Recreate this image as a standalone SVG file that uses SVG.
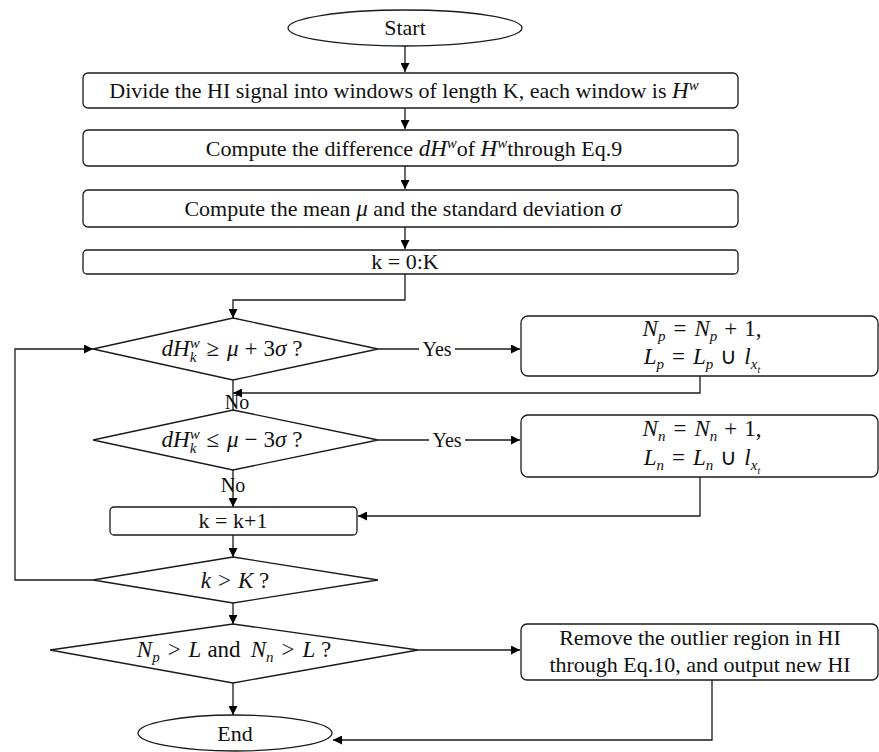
<svg xmlns="http://www.w3.org/2000/svg" width="879" height="752" viewBox="0 0 879 752">
  <defs>
    <marker id="arrow" viewBox="0 0 10 10" refX="10" refY="5" markerWidth="10" markerHeight="9" markerUnits="userSpaceOnUse" orient="auto">
      <path d="M0,0 L10,5 L0,10 z" fill="#000"/>
    </marker>
    <style>
      .shape { fill: #fff; stroke: #1a1a1a; stroke-width: 1.3; }
      .line { fill: none; stroke: #1a1a1a; stroke-width: 1.3; }
      .arr { marker-end: url(#arrow); }
      text { font-family: "Liberation Serif", "Times New Roman", serif; font-size: 22px; fill: #111; }
      .c { text-anchor: middle; }
      .i { font-style: italic; }
      .m { font-size: 23px; }
      .s { font-size: 15px; }
      .lbl { font-size: 20px; }
    </style>
  </defs>

  <rect width="879" height="752" fill="#fff"/>

  <!-- connectors -->
  <g id="connectors">
    <line class="line arr" x1="405" y1="46" x2="405" y2="72"/>
    <line class="line arr" x1="405" y1="108" x2="405" y2="129"/>
    <line class="line arr" x1="405" y1="166" x2="405" y2="189"/>
    <line class="line arr" x1="405" y1="227" x2="405" y2="249"/>
    <polyline class="line arr" points="405,274 405,300 233,300 233,318"/>
    <!-- yes branches -->
    <line class="line arr" x1="378" y1="349" x2="520" y2="349"/>
    <line class="line arr" x1="378" y1="440" x2="520" y2="440"/>
    <!-- returns from the counters -->
    <polyline class="line arr" points="700,376 700,393 233,393"/>
    <line class="line" x1="233" y1="380" x2="233" y2="410"/>
    <polyline class="line arr" points="700,477 700,516 358,516"/>
    <line class="line arr" x1="233" y1="470" x2="233" y2="507"/>
    <line class="line arr" x1="233" y1="535" x2="233" y2="557"/>
    <!-- loop back -->
    <polyline class="line arr" points="93,580 15,580 15,349 93,349"/>
    <line class="line arr" x1="233" y1="603" x2="233" y2="624"/>
    <line class="line arr" x1="418" y1="650" x2="520" y2="650"/>
    <line class="line arr" x1="233" y1="683" x2="233" y2="715"/>
    <polyline class="line arr" points="712,680 712,740 333,740"/>
    <!-- branch labels -->
    <rect x="419" y="338" width="36" height="20" fill="#fff"/>
    <text class="c lbl" x="437" y="356">Yes</text>
    <rect x="429" y="429" width="36" height="20" fill="#fff"/>
    <text class="c lbl" x="447" y="447">Yes</text>
    <text class="c lbl" x="237" y="409">No</text>
    <text class="c lbl" x="233" y="492">No</text>
  </g>

  <g id="start">
    <ellipse class="shape" cx="405" cy="28" rx="117" ry="18"/>
    <text class="c" x="405" y="35">Start</text>
  </g>

  <g id="divide">
    <rect class="shape" x="83" y="73" width="655" height="35" rx="5"/>
    <text class="c" x="404" y="98">Divide the HI signal into windows of length K, each window is <tspan class="i m">H</tspan><tspan class="i s" baseline-shift="8">w</tspan></text>
  </g>

  <g id="difference">
    <rect class="shape" x="83" y="130" width="655" height="36" rx="5"/>
    <text class="c" x="414" y="156">Compute the difference <tspan class="i m">dH</tspan><tspan class="i s" baseline-shift="8">w</tspan>of <tspan class="i m">H</tspan><tspan class="i s" baseline-shift="8">w</tspan>through Eq.9</text>
  </g>

  <g id="stats">
    <rect class="shape" x="83" y="190" width="655" height="37" rx="5"/>
    <text class="c" x="403" y="216">Compute the mean <tspan class="i m">μ</tspan> and the standard deviation <tspan class="i m">σ</tspan></text>
  </g>

  <g id="init">
    <rect class="shape" x="83" y="250" width="655" height="24" rx="4"/>
    <text class="c" x="405" y="269">k = 0:K</text>
  </g>

  <g id="test-upper">
    <polygon class="shape" points="233,318 378,349 233,380 93,349"/>
    <text class="c m" x="232" y="356"><tspan class="i">dH</tspan><tspan class="i s" baseline-shift="8">w</tspan><tspan class="i s" dx="-10" baseline-shift="-6">k</tspan><tspan dx="10">≥</tspan><tspan class="i" dx="8">μ</tspan><tspan dx="6">+</tspan><tspan dx="6">3</tspan><tspan class="i">σ</tspan> ?</text>
  </g>

  <g id="count-upper">
    <rect class="shape" x="521" y="316" width="357" height="60" rx="7"/>
    <text class="c m" x="702" y="336"><tspan class="i">N</tspan><tspan class="i s" baseline-shift="-5">p</tspan><tspan dx="8">=</tspan><tspan class="i" dx="8">N</tspan><tspan class="i s" baseline-shift="-5">p</tspan><tspan dx="7">+</tspan><tspan dx="7">1,</tspan></text>
    <text class="c m" x="702" y="364"><tspan class="i">L</tspan><tspan class="i s" baseline-shift="-5">p</tspan><tspan dx="8">=</tspan><tspan class="i" dx="8">L</tspan><tspan class="i s" baseline-shift="-5">p</tspan><tspan dx="7">∪</tspan><tspan class="i" dx="7">l</tspan><tspan class="i s" baseline-shift="-5">x</tspan><tspan class="i" font-size="10px" baseline-shift="-9">t</tspan></text>
  </g>

  <g id="test-lower">
    <polygon class="shape" points="233,410 378,440 233,470 93,440"/>
    <text class="c m" x="232" y="447"><tspan class="i">dH</tspan><tspan class="i s" baseline-shift="8">w</tspan><tspan class="i s" dx="-10" baseline-shift="-6">k</tspan><tspan dx="10">≤</tspan><tspan class="i" dx="8">μ</tspan><tspan dx="6">−</tspan><tspan dx="6">3</tspan><tspan class="i">σ</tspan> ?</text>
  </g>

  <g id="count-lower">
    <rect class="shape" x="521" y="415" width="357" height="62" rx="7"/>
    <text class="c m" x="702" y="436"><tspan class="i">N</tspan><tspan class="i s" baseline-shift="-5">n</tspan><tspan dx="8">=</tspan><tspan class="i" dx="8">N</tspan><tspan class="i s" baseline-shift="-5">n</tspan><tspan dx="7">+</tspan><tspan dx="7">1,</tspan></text>
    <text class="c m" x="702" y="465"><tspan class="i">L</tspan><tspan class="i s" baseline-shift="-5">n</tspan><tspan dx="8">=</tspan><tspan class="i" dx="8">L</tspan><tspan class="i s" baseline-shift="-5">n</tspan><tspan dx="7">∪</tspan><tspan class="i" dx="7">l</tspan><tspan class="i s" baseline-shift="-5">x</tspan><tspan class="i" font-size="10px" baseline-shift="-9">t</tspan></text>
  </g>

  <g id="increment">
    <rect class="shape" x="110" y="507" width="247" height="28" rx="4"/>
    <text class="c" x="233" y="528">k = k+1</text>
  </g>

  <g id="test-end">
    <polygon class="shape" points="233,557 378,580 233,603 93,580"/>
    <text class="c m" x="235" y="588"><tspan class="i">k</tspan><tspan dx="7">&gt;</tspan><tspan class="i" dx="7">K</tspan> ?</text>
  </g>

  <g id="test-counts">
    <polygon class="shape" points="233,624 418,650 233,683 50,650"/>
    <text class="c m" x="234" y="657"><tspan class="i">N</tspan><tspan class="i s" baseline-shift="-5">p</tspan><tspan dx="8">&gt;</tspan><tspan class="i" dx="8">L</tspan><tspan dx="6">and</tspan><tspan class="i" dx="10">N</tspan><tspan class="i s" baseline-shift="-5">n</tspan><tspan dx="8">&gt;</tspan><tspan class="i" dx="8">L</tspan> ?</text>
  </g>

  <g id="remove">
    <rect class="shape" x="521" y="624" width="357" height="56" rx="6"/>
    <text class="c" x="700" y="645">Remove the outlier region in HI</text>
    <text class="c" x="700" y="672">through Eq.10, and output new HI</text>
  </g>

  <g id="end">
    <ellipse class="shape" cx="235" cy="733" rx="97" ry="18"/>
    <text class="c" x="235" y="741">End</text>
  </g>
</svg>
